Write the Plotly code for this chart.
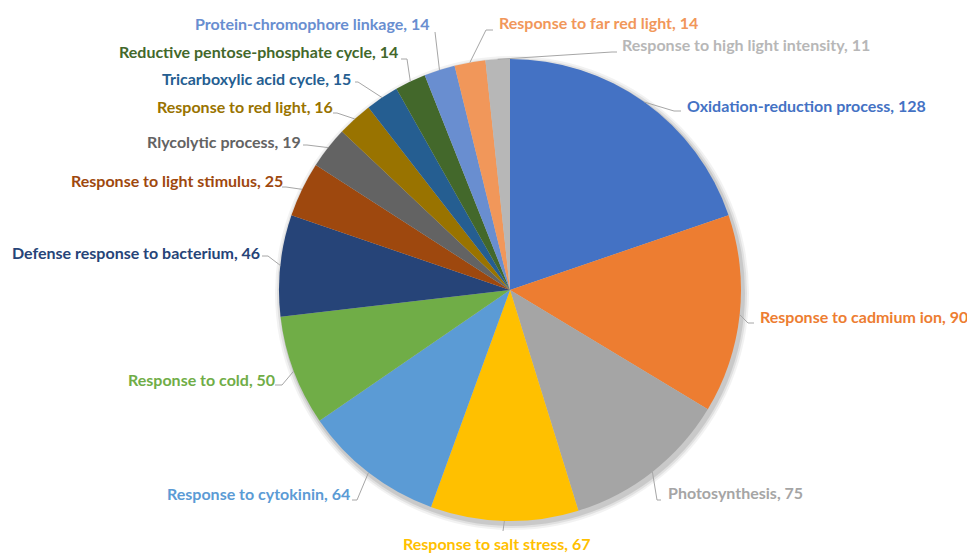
import math
import plotly.graph_objects as go

# Biological-process categories and gene counts
categories = [
    "Oxidation-reduction process",
    "Response to cadmium ion",
    "Photosynthesis",
    "Response to salt stress",
    "Response to cytokinin",
    "Response to cold",
    "Defense response to bacterium",
    "Response to light stimulus",
    "Rlycolytic process",
    "Response to red light",
    "Tricarboxylic acid cycle",
    "Reductive pentose-phosphate cycle",
    "Protein-chromophore linkage",
    "Response to far red light",
    "Response to high light intensity",
]
counts = [128, 90, 75, 67, 64, 50, 46, 25, 19, 16, 15, 14, 14, 14, 11]

colors = [
    "#4472C4", "#ED7D31", "#A5A5A5", "#FFC000", "#5B9BD5",
    "#70AD47", "#264478", "#9E480E", "#636363", "#997300",
    "#255E91", "#43682B", "#698ED0", "#F1975A", "#B7B7B7",
]

W, H = 967, 553
CX, CY, R = 510, 290, 231  # pie centre and radius in pixels

# Label placement (pixels): text anchor x, y, xanchor, leader elbow, leader end
label_layout = [
    (685, 106, "left",   (674, 111), (681, 111)),
    (758, 316, "left",   (748, 323), (754, 323)),
    (666, 492, "left",   (657, 500), (661, 500)),
    (497, 543, "center", (503, 531), (503, 531)),
    (352, 493, "right",  (357, 500), (352, 500)),
    (277, 379, "right",  (282, 385), (275, 385)),
    (262, 252, "right",  (268, 256), (262, 256)),
    (285, 180, "right",  (286, 187), (282, 187)),
    (303, 141, "right",  (307, 145), (303, 145)),
    (335, 107, "right",  (337, 113), (333, 113)),
    (353, 78,  "right",  (358, 82),  (355, 82)),
    (400, 51,  "right",  (407, 59),  (401, 59)),
    (432, 24,  "right",  (435, 32),  (435, 32)),
    (497, 22,  "left",   (486, 30),  (493, 30)),
    (620, 45,  "left",   (612, 52),  (617, 52)),
]


def px(x):
    return x / W


def py(y):
    return 1 - y / H


fig = go.Figure()
fig.add_trace(go.Pie(
    labels=categories,
    values=counts,
    sort=False,
    direction="clockwise",
    rotation=0,
    marker=dict(colors=colors, line=dict(width=0)),
    textinfo="none",
    hoverinfo="label+value",
    showlegend=False,
    domain=dict(x=[px(CX - R), px(CX + R)], y=[py(CY + R), py(CY - R)]),
))

shapes = []
# soft drop shadow under the pie
for grow, op in [(6, 0.05), (4, 0.07), (2, 0.10)]:
    shapes.append(dict(
        type="circle", xref="paper", yref="paper", layer="below",
        x0=px(CX - R - grow + 2), x1=px(CX + R + grow + 2),
        y0=py(CY + R + grow + 3), y1=py(CY - R - grow + 3),
        fillcolor=f"rgba(0,0,0,{op})", line=dict(width=0),
    ))

annotations = []
total = sum(counts)
cum = 0
for name, val, col, (tx, ty, anc, q, r_end) in zip(categories, counts, colors, label_layout):
    mid = (cum + val / 2) / total * 2 * math.pi
    cum += val
    # point on the pie edge at the slice's mid-angle
    ex = CX + R * math.sin(mid)
    ey = CY - R * math.cos(mid)
    path = f"M {px(ex)},{py(ey)} L {px(q[0])},{py(q[1])} L {px(r_end[0])},{py(r_end[1])}"
    shapes.append(dict(type="path", xref="paper", yref="paper", path=path,
                       line=dict(color="#A6A6A6", width=1)))
    annotations.append(dict(
        x=px(tx), y=py(ty), xref="paper", yref="paper",
        xanchor=anc, yanchor="middle", showarrow=False,
        text=f"<b>{name}, {val}</b>",
        font=dict(family="Lato", size=16, color=col),
    ))

fig.update_layout(
    width=W, height=H,
    margin=dict(l=0, r=0, t=0, b=0),
    paper_bgcolor="white",
    plot_bgcolor="white",
    shapes=shapes,
    annotations=annotations,
)

fig.write_html("out.html")
